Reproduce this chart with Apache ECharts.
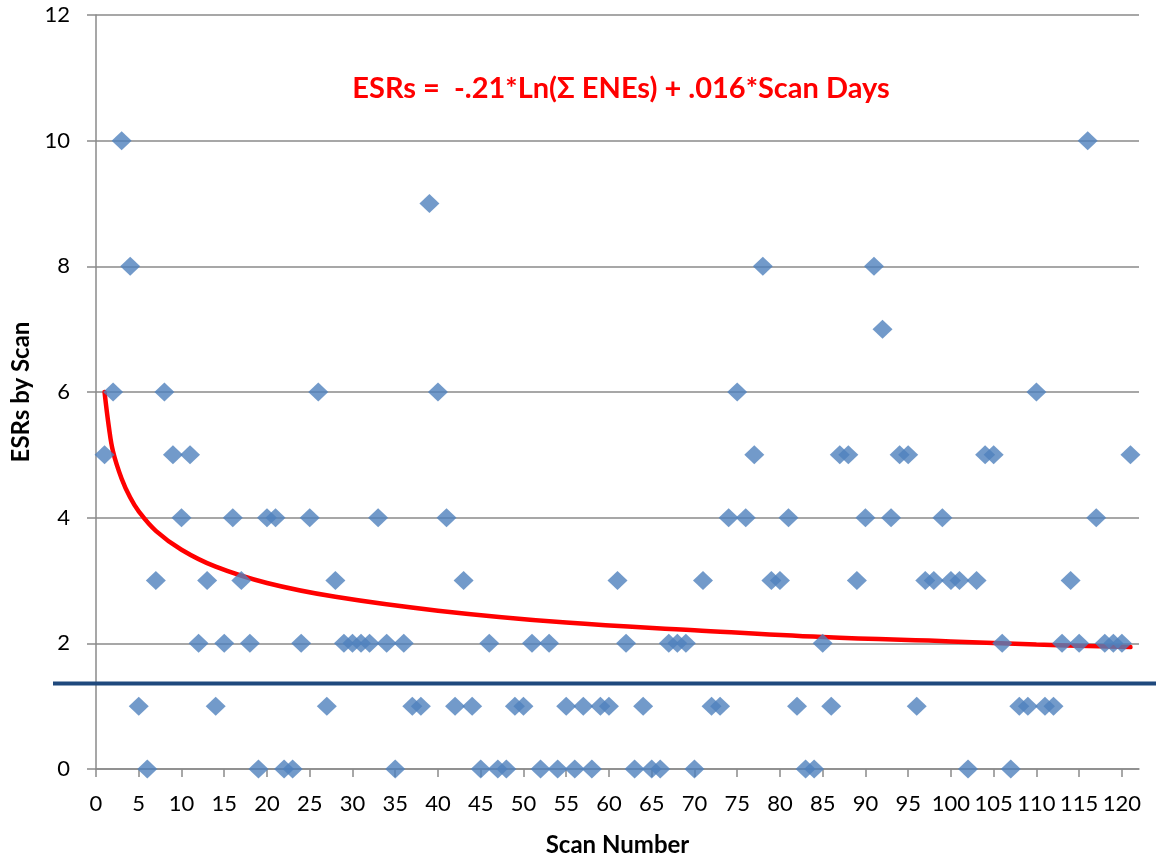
<!DOCTYPE html>
<html>
<head>
<meta charset="utf-8">
<script src="https://cdn.jsdelivr.net/npm/echarts@6/dist/echarts.min.js"></script>
<style>
html,body{margin:0;padding:0;background:#fff;}
#chart{width:1156px;height:859px;}
</style>
</head>
<body>
<div id="chart"></div>
<script>
// Scan numbers 1..121 and ESRs per scan
const scanNumbers = [
  1,2,3,4,5,6,7,8,9,10,11,12,13,14,15,16,17,18,19,20,
  21,22,23,24,25,26,27,28,29,30,31,32,33,34,35,36,37,38,39,40,
  41,42,43,44,45,46,47,48,49,50,51,52,53,54,55,56,57,58,59,60,
  61,62,63,64,65,66,67,68,69,70,71,72,73,74,75,76,77,78,79,80,
  81,82,83,84,85,86,87,88,89,90,91,92,93,94,95,96,97,98,99,100,
  101,102,103,104,105,106,107,108,109,110,111,112,113,114,115,116,117,118,119,120,
  121
];
const esrValues = [
  5,6,10,8,1,0,3,6,5,4,5,2,3,1,2,4,3,2,0,4,
  4,0,0,2,4,6,1,3,2,2,2,2,4,2,0,2,1,1,9,6,
  4,1,3,1,0,2,0,0,1,1,2,0,2,0,1,0,1,0,1,1,
  3,2,0,1,0,0,2,2,2,0,3,1,1,4,6,4,5,8,3,3,
  4,1,0,0,2,1,5,5,3,4,8,7,4,5,5,1,3,3,4,3,
  3,0,3,5,5,2,0,1,1,6,1,1,2,3,2,10,4,2,2,2,
  5
];
// Red fitted curve
const trendX = [1, 1.5, 2, 3, 4, 5, 7, 10, 14, 20, 28, 40, 55, 70, 85, 100, 110, 121];
const trendY = [6.0, 5.45, 5.05, 4.62, 4.32, 4.1, 3.79, 3.49, 3.22, 2.96, 2.74, 2.52, 2.33, 2.21, 2.1, 2.03, 1.98, 1.94];
// Blue threshold line level
const thresholdLevel = 1.36;
// Tick labels
const xTicks = [0,5,10,15,20,25,30,35,40,45,50,55,60,65,70,75,80,85,90,95,100,105,110,115,120];
const yTicks = [0,2,4,6,8,10,12];

const titleText = 'ESRs =  -.21*Ln(\u03A3 ENEs) + .016*Scan Days';

const FONT = 'Lato, Carlito, "Open Sans", sans-serif';
const GRID_COLOR = '#8a8a8a';

const chart = echarts.init(document.getElementById('chart'), null, {renderer: 'canvas'});

const option = {
  animation: false,
  backgroundColor: '#ffffff',
  textStyle: {fontFamily: FONT},
  title: {
    text: titleText,
    left: 616,
    top: 69,
    textAlign: 'center',
    textStyle: {color: '#ff0000', fontFamily: FONT, fontWeight: 'bold', fontSize: 29}
  },
  grid: [
    {left: 96, right: 17, top: 15, bottom: 90, outerBoundsMode: 'none', containLabel: false},
    {left: 53, right: 0, top: 15, bottom: 90, outerBoundsMode: 'none', containLabel: false}
  ],
  xAxis: [
    {
      type: 'value', gridIndex: 0, min: 0, max: 122, interval: 5,
      name: 'Scan Number', nameLocation: 'middle', nameGap: 64,
      nameTextStyle: {color: '#000', fontFamily: FONT, fontWeight: 'bold', fontSize: 24},
      axisLine: {show: true, onZero: false, lineStyle: {color: GRID_COLOR, width: 1.5}},
      axisTick: {show: true, length: 8, customValues: xTicks, lineStyle: {color: GRID_COLOR, width: 1.5}},
      axisLabel: {customValues: xTicks, color: '#000', fontFamily: FONT, fontSize: 22, margin: 24},
      splitLine: {show: false}
    },
    {
      type: 'value', gridIndex: 1, min: 0, max: 1, show: false
    }
  ],
  yAxis: [
    {
      type: 'value', gridIndex: 0, min: 0, max: 12, interval: 2,
      name: 'ESRs by Scan', nameLocation: 'middle', nameGap: 62,
      nameTextStyle: {color: '#000', fontFamily: FONT, fontWeight: 'bold', fontSize: 24},
      axisLine: {show: true, lineStyle: {color: GRID_COLOR, width: 1.5}},
      axisTick: {show: true, length: 9, customValues: yTicks, lineStyle: {color: GRID_COLOR, width: 1.5}},
      axisLabel: {customValues: yTicks, color: '#000', fontFamily: FONT, fontSize: 22, margin: 26},
      splitLine: {show: true, lineStyle: {color: GRID_COLOR, width: 1.5}}
    },
    {
      type: 'value', gridIndex: 1, min: 0, max: 12, show: false
    }
  ],
  series: [
    {
      name: 'Threshold', type: 'line', xAxisIndex: 1, yAxisIndex: 1,
      data: [[0, thresholdLevel], [1, thresholdLevel]],
      symbol: 'none', lineStyle: {color: '#1f497d', width: 4}, z: 3, silent: true
    },
    {
      name: 'Trend', type: 'line', xAxisIndex: 0, yAxisIndex: 0,
      data: trendX.map((x, i) => [x, trendY[i]]),
      smooth: 0.4, symbol: 'none',
      lineStyle: {color: '#ff0000', width: 4.5, cap: 'round'}, z: 4, silent: true
    },
    {
      name: 'ESRs', type: 'scatter', xAxisIndex: 0, yAxisIndex: 0,
      data: scanNumbers.map((s, i) => [s, esrValues[i]]),
      symbol: 'diamond', symbolSize: [20, 19],
      itemStyle: {color: '#4f81bd'}, z: 5
    }
  ]
};
chart.setOption(option);
</script>
</body>
</html>
